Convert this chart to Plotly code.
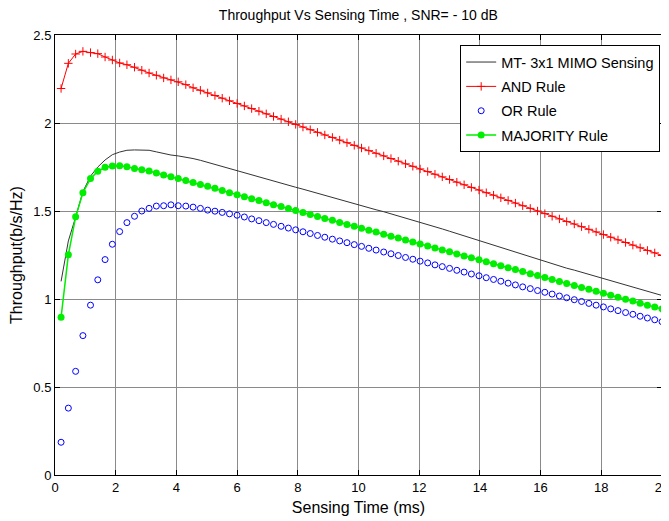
import plotly.graph_objects as go

sensing_time = [0.2, 0.44, 0.68, 0.92, 1.17, 1.41, 1.65, 1.89, 2.13, 2.37, 2.62, 2.86, 3.1, 3.34, 3.58, 3.82,
                4.06, 4.31, 4.55, 4.79, 5.03, 5.27, 5.51, 5.75, 6.0, 6.24, 6.48, 6.72, 6.96, 7.2, 7.45, 7.69,
                7.93, 8.17, 8.41, 8.65, 8.89, 9.14, 9.38, 9.62, 9.86, 10.1, 10.34, 10.58, 10.83, 11.07, 11.31,
                11.55, 11.79, 12.03, 12.28, 12.52, 12.76, 13.0, 13.24, 13.48, 13.72, 13.97, 14.21, 14.45, 14.69,
                14.93, 15.17, 15.41, 15.66, 15.9, 16.14, 16.38, 16.62, 16.86, 17.11, 17.35, 17.59, 17.83, 18.07,
                18.31, 18.55, 18.8, 19.04, 19.28, 19.52, 19.76, 20.0]

mimo_sensing = [1.10, 1.33, 1.465, 1.61, 1.698, 1.75, 1.79, 1.82, 1.835, 1.845, 1.847, 1.847, 1.845, 1.836, 1.826,
                1.818, 1.813, 1.807, 1.798, 1.788, 1.776, 1.765, 1.753, 1.741, 1.729, 1.718, 1.706, 1.694, 1.682,
                1.671, 1.659, 1.647, 1.635, 1.624, 1.612, 1.600, 1.588, 1.577, 1.565, 1.553, 1.542, 1.530, 1.519,
                1.507, 1.496, 1.484, 1.473, 1.461, 1.450, 1.439, 1.425, 1.412, 1.398, 1.385, 1.372, 1.359, 1.345,
                1.332, 1.318, 1.305, 1.291, 1.278, 1.264, 1.251, 1.237, 1.224, 1.211, 1.199, 1.187, 1.175, 1.164,
                1.152, 1.140, 1.128, 1.117, 1.105, 1.092, 1.080, 1.068, 1.056, 1.044, 1.032, 1.020]

and_rule = [2.196, 2.339, 2.392, 2.407, 2.400, 2.394, 2.375, 2.358, 2.341, 2.331, 2.317, 2.300, 2.284, 2.271, 2.256,
            2.245, 2.234, 2.218, 2.200, 2.186, 2.171, 2.156, 2.141, 2.126, 2.111, 2.097, 2.082, 2.067, 2.052,
            2.037, 2.022, 2.007, 1.992, 1.977, 1.962, 1.947, 1.932, 1.918, 1.903, 1.888, 1.873, 1.858, 1.843,
            1.828, 1.813, 1.798, 1.783, 1.768, 1.754, 1.739, 1.724, 1.709, 1.694, 1.679, 1.664, 1.649, 1.634,
            1.619, 1.604, 1.590, 1.575, 1.560, 1.545, 1.530, 1.515, 1.500, 1.485, 1.470, 1.455, 1.440, 1.426,
            1.411, 1.396, 1.381, 1.366, 1.351, 1.336, 1.321, 1.306, 1.291, 1.276, 1.262, 1.247]

or_rule = [0.186, 0.380, 0.589, 0.792, 0.965, 1.109, 1.224, 1.311, 1.383, 1.434, 1.470, 1.500, 1.515, 1.528, 1.530,
           1.535, 1.530, 1.528, 1.522, 1.515, 1.505, 1.499, 1.492, 1.484, 1.476, 1.466, 1.455, 1.445, 1.434,
           1.424, 1.413, 1.403, 1.393, 1.382, 1.372, 1.361, 1.351, 1.340, 1.330, 1.320, 1.309, 1.299, 1.288,
           1.278, 1.267, 1.257, 1.247, 1.236, 1.226, 1.215, 1.205, 1.194, 1.184, 1.174, 1.163, 1.153, 1.142,
           1.132, 1.121, 1.111, 1.101, 1.090, 1.080, 1.069, 1.059, 1.048, 1.038, 1.028, 1.017, 1.007, 0.996,
           0.986, 0.975, 0.965, 0.955, 0.944, 0.934, 0.923, 0.913, 0.902, 0.892, 0.882, 0.871]

majority_rule = [0.896, 1.251, 1.467, 1.604, 1.684, 1.726, 1.748, 1.756, 1.757, 1.752, 1.742, 1.735, 1.727, 1.716,
                 1.705, 1.695, 1.685, 1.673, 1.662, 1.650, 1.640, 1.629, 1.616, 1.604, 1.592, 1.581, 1.570, 1.559,
                 1.547, 1.536, 1.525, 1.514, 1.503, 1.491, 1.480, 1.469, 1.458, 1.447, 1.435, 1.424, 1.413, 1.402,
                 1.391, 1.380, 1.368, 1.357, 1.346, 1.335, 1.324, 1.312, 1.301, 1.290, 1.279, 1.268, 1.256, 1.245,
                 1.234, 1.223, 1.212, 1.200, 1.189, 1.178, 1.167, 1.156, 1.144, 1.133, 1.122, 1.111, 1.100, 1.088,
                 1.077, 1.066, 1.055, 1.044, 1.032, 1.021, 1.010, 0.999, 0.988, 0.976, 0.965, 0.954, 0.943]

x_ticks = [0, 2, 4, 6, 8, 10, 12, 14, 16, 18, 20]
y_ticks = [0, 0.5, 1, 1.5, 2, 2.5]
y_tick_labels = ["0", "0.5", "1", "1.5", "2", "2.5"]

fig = go.Figure()
fig.add_trace(go.Scatter(x=sensing_time, y=mimo_sensing, mode="lines", name="MT- 3x1 MIMO Sensing",
                         legendgroup="g1", line=dict(color="#333333", width=1)))
fig.add_trace(go.Scatter(x=sensing_time, y=and_rule, mode="lines+markers", name="AND Rule", legendgroup="g2",
                         line=dict(color="#ff0000", width=1),
                         marker=dict(symbol="cross-thin", size=6, line=dict(color="#ff0000", width=1))))
fig.add_trace(go.Scatter(x=sensing_time, y=or_rule, mode="markers", name="OR Rule", legendgroup="g3",
                         marker=dict(symbol="circle-open", size=6, color="#0000ff", line=dict(color="#0000ff", width=1))))
fig.add_trace(go.Scatter(x=sensing_time, y=majority_rule, mode="lines+markers", name="MAJORITY Rule",
                         legendgroup="g4",
                         line=dict(color="#00ee00", width=1.5), marker=dict(symbol="circle", size=7, color="#00ee00")))

axis_common = dict(showline=True, linecolor="black", linewidth=1, mirror="allticks", ticks="inside", ticklen=5,
                   tickcolor="black", showgrid=True, gridcolor="#8a8a8a", gridwidth=1, zeroline=False,
                   automargin=False, ticklabeloverflow="allow",
                   tickfont=dict(family="Arial", size=13, color="black"))

# the page body has an 8px margin, so the figure is sized to fit the 669x521 window
fig.update_layout(
    width=661, height=513,
    margin=dict(l=47, r=7, t=27, b=46),
    paper_bgcolor="white", plot_bgcolor="white",
    font=dict(family="Arial", size=13, color="black"),
    title=dict(text="Throughput Vs Sensing Time , SNR= - 10 dB", x=0.53, xanchor="center", y=0.986,
               yanchor="middle", font=dict(size=14)),
    showlegend=True,
    legend=dict(x=0.997, y=0.977, xanchor="right", yanchor="top", bgcolor="white", bordercolor="black",
                borderwidth=1, font=dict(size=14.5, color="black"), traceorder="grouped", tracegroupgap=2.5),
)
fig.update_xaxes(range=[0, 20], tickvals=x_ticks,
                 title=dict(text="Sensing Time (ms)", standoff=8, font=dict(size=16)), **axis_common)
fig.update_yaxes(range=[0, 2.5], tickvals=y_ticks, ticktext=y_tick_labels,
                 title=dict(text="Throughput(b/s/Hz)", standoff=10, font=dict(size=16)), **axis_common)

fig.write_html("out.html")
